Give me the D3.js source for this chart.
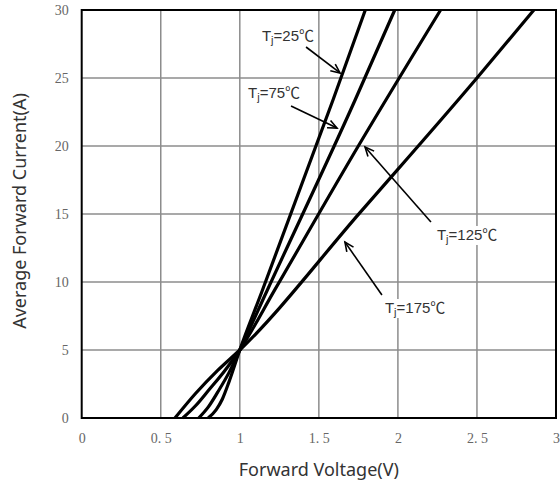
<!DOCTYPE html>
<html>
<head>
<meta charset="utf-8">
<script src="https://cdn.jsdelivr.net/npm/d3@7"></script>
<style>
  body { margin: 0; background: #fff; }
  .tick text { font-family: "Liberation Serif", "DejaVu Serif", serif; font-size: 14px; fill: #666; }
  .titulo { font-family: "Noto Sans", "Open Sans", sans-serif; font-size: 18px; fill: #333; }
  .etiqueta { font-family: "Liberation Sans", "Noto Sans CJK SC", sans-serif; font-size: 15px; fill: #333; }
</style>
</head>
<body>
<div id="grafico"></div>
<script>
// Datos (tension en V, corriente en A)
const temperaturas = ["25", "75", "125", "175"]
const v25 = [0.80, 0.85, 0.89, 0.93, 1.0, 1.14, 1.59, 1.794]
const i25 = [0, 0.6, 1.4, 2.6, 5.0, 9.3, 23.4, 30]
const v75 = [0.74, 0.80, 0.86, 0.93, 1.0, 1.17, 1.73, 1.98]
const i75 = [0, 0.8, 1.9, 3.3, 5.0, 9.3, 23.4, 30]
const v125 = [0.64, 0.72, 0.80, 0.90, 1.0, 1.22, 1.76, 2.27]
const i125 = [0, 0.9, 2.0, 3.4, 5.0, 9.4, 20.2, 30]
const v175 = [0.59, 0.72, 0.86, 1.0, 1.76, 2.5, 2.86]
const i175 = [0, 1.8, 3.5, 5.0, 15.1, 25, 30]

const xTicks = [0, 0.5, 1, 1.5, 2, 2.5, 3]
const yTicks = [0, 5, 10, 15, 20, 25, 30]

// Anotaciones en unidades de datos: texto, punta de flecha, cola, texto
const anotaciones = [
  { t: "25", tip: [1.634, 25.37], tail: [1.419, 27.28], txt: [1.140, 27.72] },
  { t: "75", tip: [1.615, 21.32], tail: [1.324, 22.94], txt: [1.052, 23.53] },
  { t: "125", tip: [1.792, 19.93], tail: [2.209, 14.41], txt: [2.247, 13.09] },
  { t: "175", tip: [1.665, 12.94], tail: [1.899, 9.04], txt: [1.918, 7.72] },
]

const series = [
  { t: "25", v: v25, i: i25 },
  { t: "75", v: v75, i: i75 },
  { t: "125", v: v125, i: i125 },
  { t: "175", v: v175, i: i175 },
]

const anchoTotal = 560
const altoTotal = 484
const margins = { top: 10, right: 4, bottom: 66, left: 81.7 }
const ancho = anchoTotal - margins.left - margins.right
const alto = altoTotal - margins.top - margins.bottom

const svg = d3.select("#grafico")
  .append("svg")
  .attr("width", anchoTotal)
  .attr("height", altoTotal)

const g = svg.append("g")
  .attr("transform", `translate(${margins.left}, ${margins.top})`)

const x = d3.scaleLinear().domain([0, 3]).range([0, ancho])
const y = d3.scaleLinear().domain([0, 30]).range([alto, 0])

// Rejilla
g.append("g").selectAll("line")
  .data(xTicks.slice(1, -1))
  .join("line")
  .attr("x1", (d) => x(d)).attr("x2", (d) => x(d))
  .attr("y1", 0).attr("y2", alto)
  .attr("stroke", "#8c8c8c").attr("stroke-width", 1.5)

g.append("g").selectAll("line")
  .data(yTicks.slice(1, -1))
  .join("line")
  .attr("x1", 0).attr("x2", ancho)
  .attr("y1", (d) => y(d)).attr("y2", (d) => y(d))
  .attr("stroke", "#8c8c8c").attr("stroke-width", 1.5)

// Ejes (solo etiquetas)
const fmt = (d) => String(d).replace(".", ". ")
const xAxis = g.append("g")
  .attr("transform", `translate(0, ${alto})`)
  .call(d3.axisBottom(x).tickValues(xTicks).tickSize(0).tickPadding(15).tickFormat(fmt))
xAxis.select(".domain").remove()

const yAxis = g.append("g")
  .call(d3.axisLeft(y).tickValues(yTicks).tickSize(0).tickPadding(13).tickFormat(fmt))
yAxis.select(".domain").remove()

// Curvas
const linea = d3.line()
  .x((d) => x(d[0]))
  .y((d) => y(d[1]))
  .curve(d3.curveMonotoneX)

g.append("g").selectAll("path")
  .data(series)
  .join("path")
  .attr("d", (s) => linea(s.v.map((v, k) => [v, s.i[k]])))
  .attr("fill", "none")
  .attr("stroke", "#000")
  .attr("stroke-width", 3.2)
  .attr("stroke-linejoin", "round")

// Marco
g.append("rect")
  .attr("width", ancho).attr("height", alto)
  .attr("fill", "none").attr("stroke", "#000").attr("stroke-width", 2)

// Anotaciones
const ann = g.append("g")
anotaciones.forEach((a) => {
  const px = [x(a.tip[0]), y(a.tip[1])]
  const pt = [x(a.tail[0]), y(a.tail[1])]
  const ang = Math.atan2(px[1] - pt[1], px[0] - pt[0])
  const largo = 10
  const abre = 0.42
  ann.append("line")
    .attr("x1", pt[0]).attr("y1", pt[1]).attr("x2", px[0]).attr("y2", px[1])
    .attr("stroke", "#000").attr("stroke-width", 1.6)
  ann.append("path")
    .attr("d", `M${px[0] - largo * Math.cos(ang - abre)},${px[1] - largo * Math.sin(ang - abre)}` +
      `L${px[0]},${px[1]}` +
      `L${px[0] - largo * Math.cos(ang + abre)},${px[1] - largo * Math.sin(ang + abre)}`)
    .attr("fill", "none").attr("stroke", "#000").attr("stroke-width", 1.6)

  const fondo = ann.append("rect").attr("fill", "#fff")
  const texto = ann.append("text")
    .attr("class", "etiqueta")
    .attr("x", x(a.txt[0])).attr("y", y(a.txt[1]))
  texto.append("tspan").text("T")
  texto.append("tspan").text("j").attr("font-size", 11).attr("dy", 3)
  texto.append("tspan").text(`=${a.t}℃`).attr("dy", -3)
  const bb = texto.node().getBBox()
  fondo.attr("x", bb.x - 1).attr("y", bb.y).attr("width", bb.width + 2).attr("height", bb.height)
})

// Titulos
svg.append("text")
  .attr("class", "titulo")
  .attr("x", margins.left + ancho / 2)
  .attr("y", 476)
  .attr("text-anchor", "middle")
  .text("Forward Voltage(V)")

svg.append("text")
  .attr("class", "titulo")
  .attr("transform", `translate(26, ${margins.top + 201}) rotate(-90)`)
  .attr("text-anchor", "middle")
  .text("Average Forward Current(A)")
</script>
</body>
</html>
